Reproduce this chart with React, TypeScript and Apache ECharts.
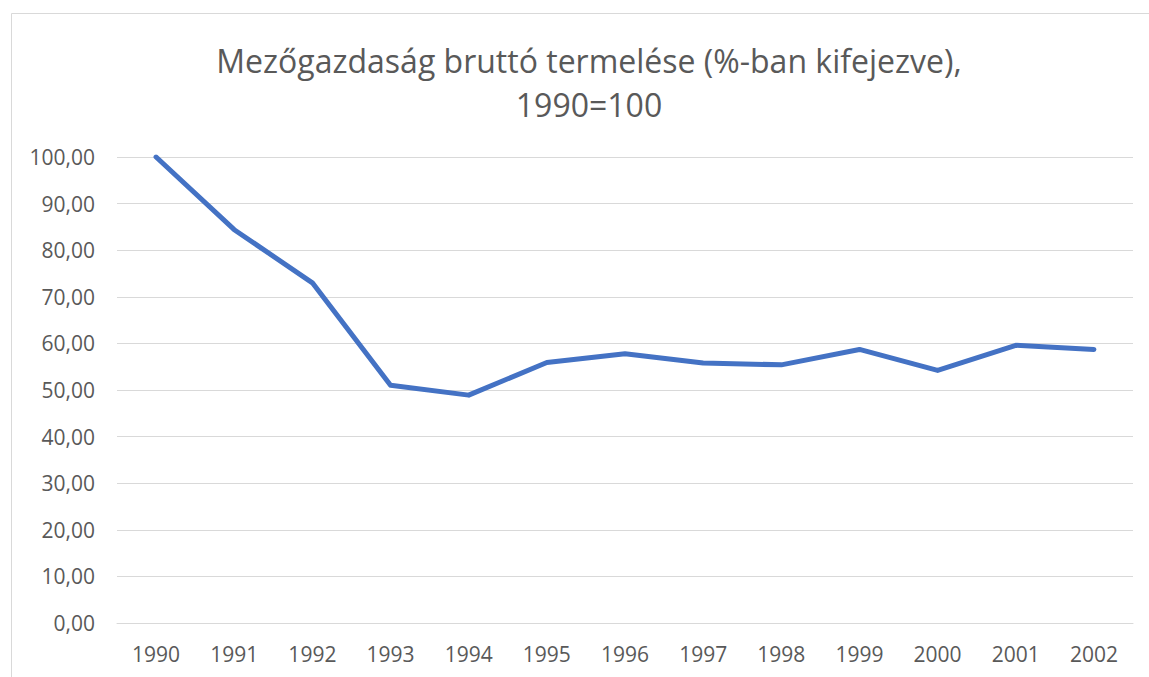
import React, { useEffect, useRef } from "react";
import * as echarts from "echarts";

const years = ["1990", "1991", "1992", "1993", "1994", "1995", "1996", "1997", "1998", "1999", "2000", "2001", "2002"];
const values = [100, 84.4, 73.0, 51.0, 48.9, 55.9, 57.8, 55.8, 55.4, 58.7, 54.2, 59.6, 58.7];
const titleLines = ["Mezőgazdaság bruttó termelése (%-ban kifejezve),", "1990=100"];

const FONT = "'Open Sans', 'Noto Sans', sans-serif";
const TXT = "#595959";

export default function App() {
  const ref = useRef<HTMLDivElement>(null);
  useEffect(() => {
    if (!ref.current) return;
    const chart = echarts.init(ref.current, undefined, { renderer: "svg" });
    chart.setOption({
      animation: false,
      backgroundColor: "#ffffff",
      textStyle: { fontFamily: FONT },
      title: titleLines.map((t, i) => ({
        text: t,
        left: 589,
        top: 39 + i * 44,
        padding: 0,
        textAlign: "center",
        textStyle: { fontFamily: FONT, fontSize: 32, lineHeight: 42, fontWeight: "normal", color: TXT },
      })),
      graphic: [
        {
          type: "rect",
          shape: { x: 11.5, y: 13.5, width: 1200, height: 800 },
          style: { fill: "none", stroke: "#d9d9d9", lineWidth: 1 },
          silent: true,
          z: -1,
        },
      ],
      grid: { left: 117, right: 16, top: 157, bottom: 54, containLabel: false },
      xAxis: {
        type: "category",
        data: years,
        boundaryGap: true,
        axisLine: { show: true, lineStyle: { color: "#d9d9d9", width: 1 } },
        axisTick: { show: false },
        axisLabel: { color: TXT, fontSize: 21, fontFamily: FONT, margin: 20 },
      },
      yAxis: {
        type: "value",
        min: 0,
        max: 100,
        interval: 10,
        axisLine: { show: false },
        axisTick: { show: false },
        splitLine: { show: true, lineStyle: { color: "#d9d9d9", width: 1 } },
        axisLabel: {
          color: TXT,
          fontSize: 21,
          fontFamily: FONT,
          margin: 22,
          formatter: (v: number) => v.toFixed(2).replace(".", ","),
        },
      },
      series: [
        {
          type: "line",
          data: values,
          symbol: "none",
          lineStyle: { color: "#4472C4", width: 5, cap: "round", join: "round" },
          itemStyle: { color: "#4472C4" },
        },
      ],
    });
    return () => chart.dispose();
  }, []);
  return (
    <div
      ref={ref}
      style={{ position: "fixed", left: 0, top: 0, width: 1149, height: 677, background: "#fff" }}
    />
  );
}
